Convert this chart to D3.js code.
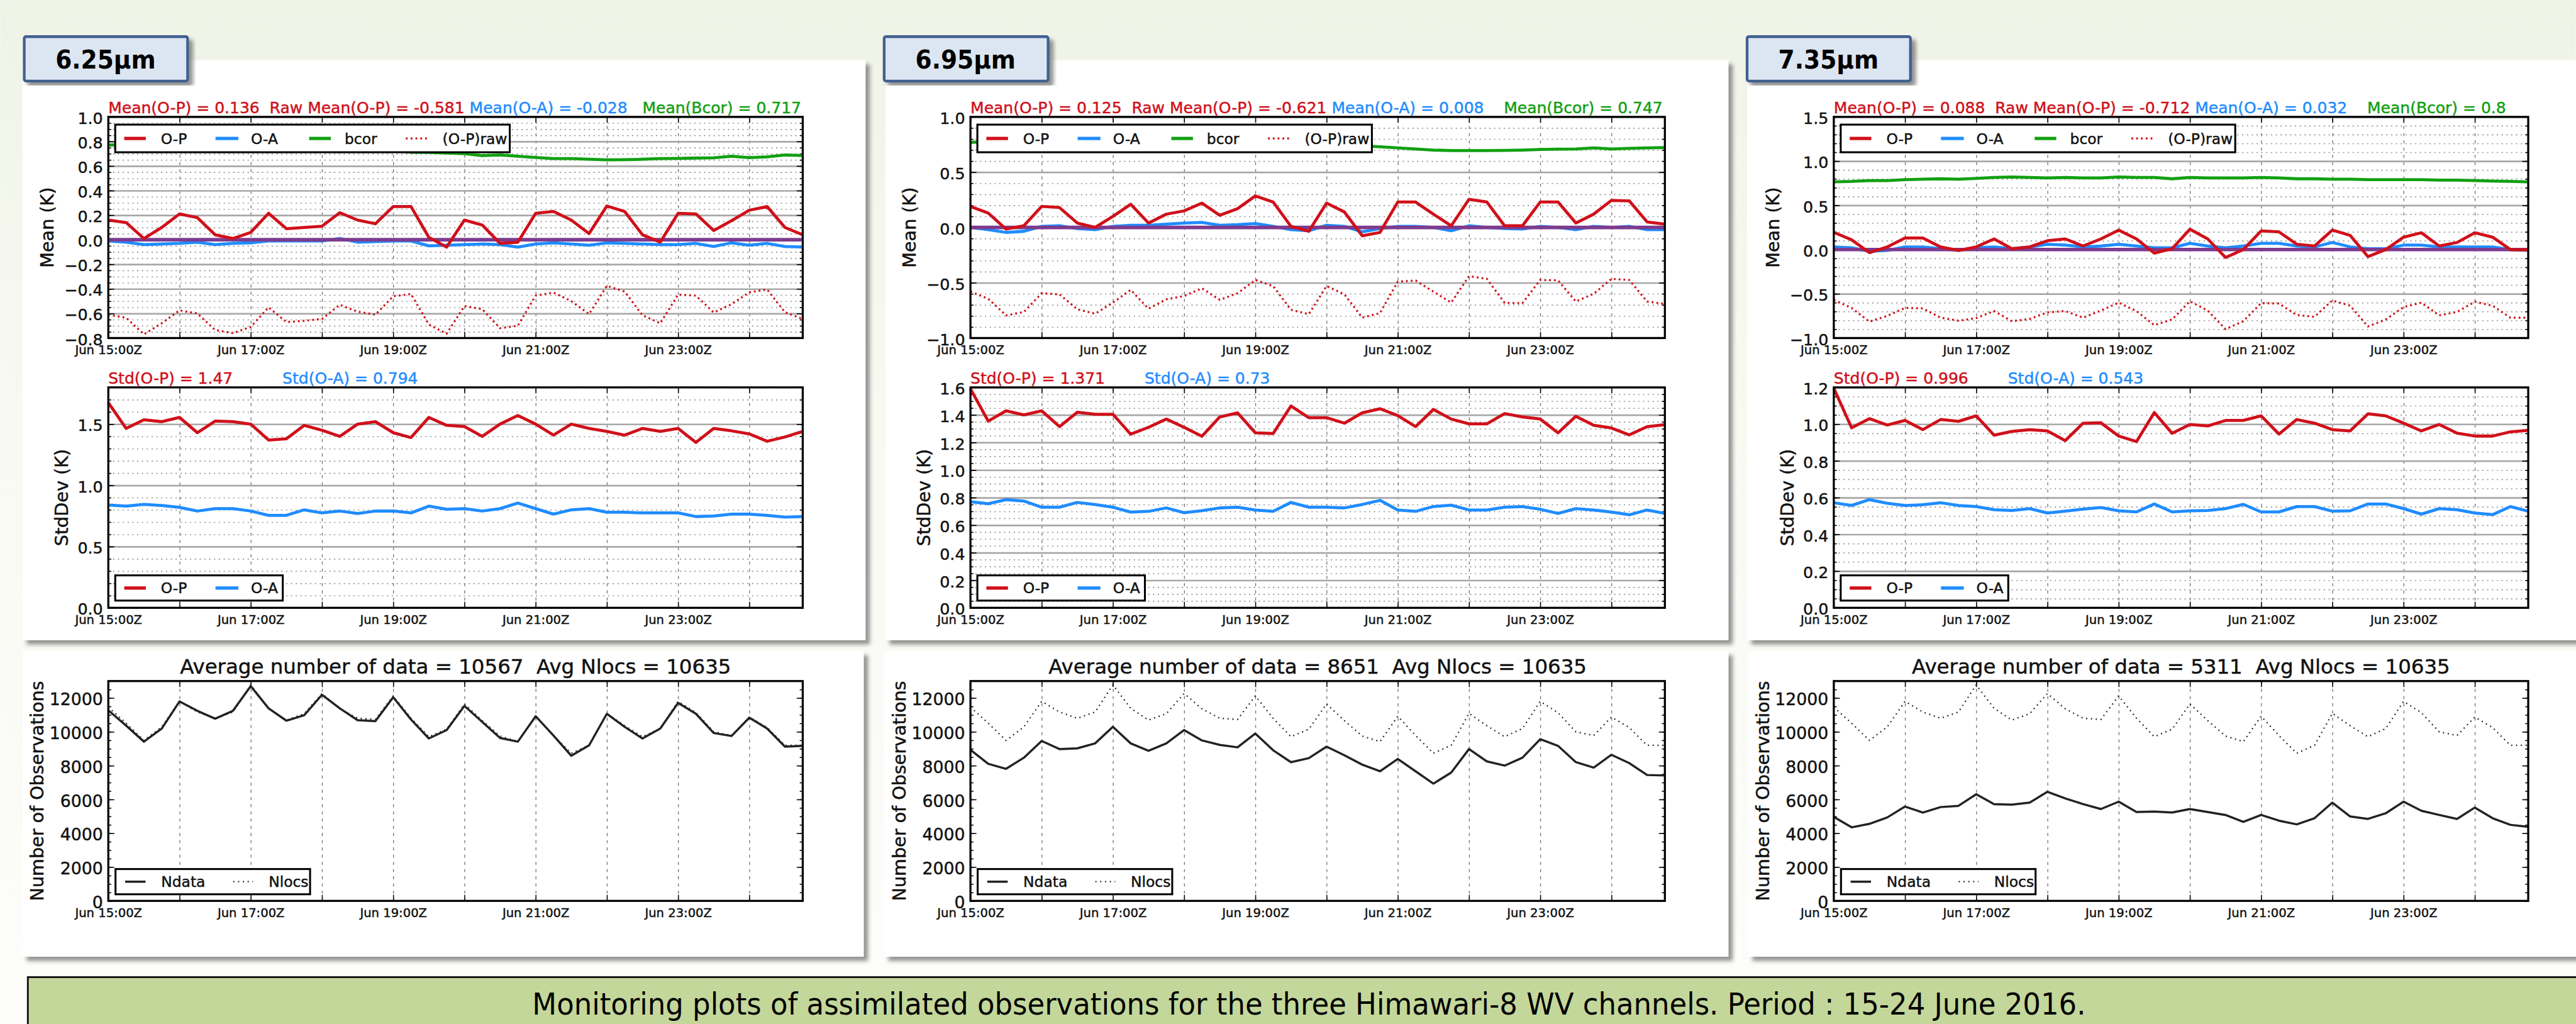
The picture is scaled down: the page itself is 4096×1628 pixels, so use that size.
<!DOCTYPE html>
<html>
<head>
<meta charset="utf-8">
<script src="https://cdn.jsdelivr.net/npm/d3@7/dist/d3.min.js"></script>
<style>
  body { margin: 0; background: #fff; overflow: hidden; }
  text { font-family: 'DejaVu Sans', sans-serif; white-space: pre; }
  .chart text { stroke: currentColor; stroke-width: 0.5px; }
</style>
</head>
<body>
<svg id="fig"></svg>
<script>
// ---- data (hours since Jun 15 00Z, every 6h) ----
const obsHours = [0,6,12,18,24,30,36,42,48,54,60,66,72,78,84,90,96,102,108,114,
  120,126,132,138,144,150,156,162,168,174,180,186,192,198,204,210,216,222,228,234];
const dayTicks = [0,24,48,72,96,120,144,168,192,216];
const labelHours = [0,48,96,144,192];
const dayLabels = ['Jun 15:00Z','Jun 17:00Z','Jun 19:00Z','Jun 21:00Z','Jun 23:00Z'];

// 6.25um
const op625 = [0.16,0.14,0.01,0.10,0.21,0.18,0.04,0.01,0.06,0.215,0.09,0.10,0.11,0.22,0.16,0.13,0.27,0.27,0.02,-0.06,
  0.16,0.12,-0.03,-0.02,0.215,0.23,0.16,0.05,0.275,0.23,0.04,-0.02,0.215,0.21,0.075,0.155,0.24,0.27,0.10,0.04];
const oa625 = [-0.01,-0.02,-0.04,-0.035,-0.03,-0.02,-0.04,-0.03,-0.025,-0.01,-0.01,-0.01,-0.01,0.01,-0.02,-0.015,-0.01,-0.01,-0.05,-0.045,
  -0.04,-0.035,-0.04,-0.06,-0.035,-0.025,-0.035,-0.045,-0.025,-0.03,-0.035,-0.04,-0.04,-0.03,-0.055,-0.025,-0.045,-0.03,-0.055,-0.06];
const bcor625 = [0.77,0.775,0.78,0.78,0.785,0.78,0.775,0.77,0.77,0.765,0.76,0.76,0.755,0.75,0.745,0.74,0.73,0.712,0.71,0.705,
  0.70,0.685,0.69,0.68,0.67,0.66,0.66,0.655,0.65,0.652,0.655,0.66,0.662,0.665,0.667,0.68,0.668,0.675,0.69,0.685];
const raw625 = [-0.61,-0.635,-0.77,-0.68,-0.575,-0.60,-0.735,-0.76,-0.71,-0.55,-0.67,-0.66,-0.645,-0.53,-0.585,-0.61,-0.46,-0.442,-0.69,-0.765,
  -0.54,-0.565,-0.72,-0.70,-0.455,-0.43,-0.50,-0.605,-0.375,-0.422,-0.615,-0.68,-0.447,-0.455,-0.592,-0.525,-0.428,-0.405,-0.59,-0.645];
const sdop625 = [1.675,1.465,1.535,1.52,1.555,1.43,1.525,1.52,1.50,1.37,1.38,1.49,1.45,1.40,1.50,1.52,1.43,1.39,1.555,1.49,
  1.48,1.40,1.50,1.57,1.50,1.41,1.50,1.465,1.44,1.41,1.465,1.44,1.465,1.35,1.465,1.445,1.42,1.36,1.395,1.44];
const sdoa625 = [0.84,0.83,0.845,0.835,0.82,0.79,0.81,0.81,0.79,0.755,0.755,0.80,0.775,0.79,0.77,0.79,0.79,0.775,0.83,0.805,
  0.81,0.79,0.81,0.855,0.81,0.765,0.80,0.81,0.78,0.78,0.775,0.775,0.775,0.745,0.75,0.765,0.765,0.755,0.74,0.745];
const ndata625 = [11270,10365,9416,10190,11796,11241,10774,11241,12700,11387,10657,10978,12190,11387,10686,10628,12044,10730,9606,10102,
  11533,10584,9635,9416,10920,9781,8584,9197,11066,10292,9606,10190,11708,11066,9927,9752,10832,10190,9124,9168];

// 6.95um
const op695 = [0.19,0.13,-0.015,0.015,0.19,0.18,0.04,0.0,0.10,0.21,0.04,0.12,0.15,0.22,0.11,0.17,0.285,0.23,0.01,-0.035,
  0.22,0.14,-0.075,-0.045,0.23,0.23,0.12,0.015,0.255,0.23,0.015,0.015,0.23,0.23,0.04,0.12,0.245,0.24,0.05,0.03];
const oa695 = [0.0,-0.02,-0.045,-0.035,0.01,0.015,-0.01,-0.02,0.01,0.02,0.02,0.03,0.04,0.045,0.02,0.025,0.035,0.01,-0.02,-0.03,
  0.02,0.01,-0.04,-0.01,0.01,0.01,0.0,-0.03,0.015,0.0,-0.01,-0.015,0.01,0.0,-0.02,0.01,0.0,0.01,-0.02,-0.02];
const bcor695 = [0.77,0.775,0.78,0.78,0.785,0.785,0.78,0.78,0.78,0.775,0.775,0.77,0.77,0.77,0.765,0.765,0.76,0.76,0.755,0.75,
  0.75,0.745,0.74,0.73,0.72,0.71,0.70,0.695,0.695,0.695,0.697,0.70,0.705,0.708,0.71,0.72,0.71,0.715,0.72,0.722];
const raw695 = [-0.58,-0.645,-0.795,-0.765,-0.595,-0.605,-0.74,-0.78,-0.68,-0.565,-0.735,-0.65,-0.62,-0.55,-0.655,-0.595,-0.475,-0.53,-0.745,-0.785,
  -0.53,-0.605,-0.815,-0.775,-0.49,-0.48,-0.58,-0.68,-0.44,-0.465,-0.682,-0.685,-0.475,-0.478,-0.67,-0.60,-0.465,-0.475,-0.67,-0.692];
const sdop695 = [1.59,1.355,1.43,1.40,1.43,1.315,1.42,1.405,1.405,1.26,1.31,1.37,1.31,1.245,1.385,1.415,1.27,1.265,1.465,1.38,
  1.38,1.34,1.415,1.445,1.395,1.315,1.44,1.37,1.335,1.335,1.41,1.385,1.37,1.27,1.39,1.325,1.305,1.255,1.315,1.33];
const sdoa695 = [0.77,0.755,0.785,0.775,0.73,0.73,0.765,0.75,0.73,0.695,0.70,0.725,0.69,0.705,0.725,0.73,0.71,0.70,0.765,0.73,
  0.73,0.725,0.75,0.78,0.71,0.70,0.735,0.745,0.71,0.71,0.73,0.735,0.715,0.685,0.72,0.71,0.695,0.675,0.71,0.685];
const ndata695 = [8934,8102,7810,8467,9460,8978,9022,9314,10292,9314,8876,9314,10102,9489,9226,9080,9898,8905,8204,8438,
  9124,8613,8058,7664,8394,7664,6934,7591,8978,8248,8000,8467,9562,9168,8204,7883,8642,8146,7445,7416];

// 7.35um
const op735 = [0.195,0.11,-0.035,0.03,0.13,0.13,0.03,-0.01,0.03,0.12,0.01,0.03,0.10,0.12,0.04,0.12,0.22,0.12,-0.04,0.01,
  0.23,0.12,-0.09,0.0,0.21,0.20,0.06,0.04,0.22,0.16,-0.08,0.0,0.14,0.19,0.04,0.08,0.19,0.14,0.0,-0.005];
const oa735 = [0.03,0.02,-0.02,-0.01,0.03,0.03,0.01,-0.01,0.02,0.03,0.01,0.03,0.06,0.05,0.03,0.04,0.06,0.04,0.02,0.02,
  0.07,0.04,0.02,0.04,0.07,0.07,0.04,0.03,0.08,0.03,0.01,0.01,0.05,0.05,0.03,0.03,0.03,0.03,0.0,-0.01];
const bcor735 = [0.765,0.77,0.78,0.78,0.79,0.795,0.80,0.795,0.805,0.815,0.82,0.815,0.81,0.815,0.81,0.81,0.82,0.815,0.815,0.80,
  0.815,0.81,0.81,0.81,0.815,0.81,0.80,0.80,0.795,0.795,0.79,0.79,0.79,0.79,0.785,0.785,0.78,0.775,0.77,0.765];
const raw735 = [-0.57,-0.66,-0.815,-0.75,-0.66,-0.665,-0.77,-0.805,-0.775,-0.695,-0.81,-0.785,-0.71,-0.695,-0.77,-0.69,-0.60,-0.695,-0.855,-0.79,
  -0.585,-0.69,-0.90,-0.81,-0.605,-0.61,-0.74,-0.76,-0.575,-0.635,-0.87,-0.79,-0.65,-0.60,-0.745,-0.705,-0.59,-0.635,-0.77,-0.77];
const sdop735 = [1.195,0.98,1.03,0.995,1.02,0.97,1.025,1.015,1.045,0.94,0.96,0.97,0.963,0.91,1.005,1.007,0.935,0.905,1.063,0.95,
  0.998,0.99,1.02,1.02,1.045,0.946,1.025,1.005,0.97,0.963,1.056,1.045,1.005,0.963,0.998,0.951,0.935,0.935,0.958,0.966];
const sdoa735 = [0.572,0.557,0.589,0.569,0.557,0.561,0.572,0.557,0.551,0.534,0.53,0.54,0.516,0.526,0.537,0.546,0.528,0.522,0.565,0.522,
  0.528,0.53,0.54,0.563,0.522,0.522,0.551,0.551,0.526,0.528,0.565,0.565,0.54,0.51,0.54,0.534,0.516,0.507,0.551,0.526];
const ndata735 = [4964,4350,4555,4934,5577,5226,5547,5620,6307,5723,5693,5810,6453,6058,5723,5431,5869,5255,5285,5226,
  5431,5255,5080,4672,5080,4745,4526,4891,5810,4993,4847,5182,5869,5328,5080,4847,5518,4891,4496,4380];

// same for all channels
const nlocs = [11460,10510,9490,10290,11800,11170,10800,11170,12770,11390,10690,11070,12260,11360,10800,10730,12120,10800,9710,10150,
  11650,10660,9750,9420,10920,9780,8730,9200,11090,10360,9710,10190,11800,11130,10000,9780,10870,10250,9200,9200];

// tick labels
const meanTicks625 = [-0.8,-0.6,-0.4,-0.2,0.0,0.2,0.4,0.6,0.8,1.0];
const meanTicks695 = [-1.0,-0.5,0.0,0.5,1.0];
const meanTicks735 = [-1.0,-0.5,0.0,0.5,1.0,1.5];
const stdTicks625 = [0.0,0.5,1.0,1.5];
const stdTicks695 = [0.0,0.2,0.4,0.6,0.8,1.0,1.2,1.4,1.6];
const stdTicks735 = [0.0,0.2,0.4,0.6,0.8,1.0,1.2];
const nobsTicks = [0,2000,4000,6000,8000,10000,12000];

const channelNames = ['6.25µm','6.95µm','7.35µm'];
const meanStats = [
  ['0.136','-0.581','-0.028','0.717'],
  ['0.125','-0.621','0.008','0.747'],
  ['0.088','-0.712','0.032','0.8']
];
const stdStats = [['1.47','0.794'],['1.371','0.73'],['0.996','0.543']];
const avgData = ['10567','8651','5311'];
const avgNlocs = '10635';

const channels = [
  { op: op625, oa: oa625, bcor: bcor625, raw: raw625, sdop: sdop625, sdoa: sdoa625, ndata: ndata625,
    meanTicks: meanTicks625, meanDomain: [-0.8, 1.0], meanMinor: 0.05,
    stdTicks: stdTicks625, stdDomain: [0, 1.8], stdMinor: 0.1, gap: '   ' },
  { op: op695, oa: oa695, bcor: bcor695, raw: raw695, sdop: sdop695, sdoa: sdoa695, ndata: ndata695,
    meanTicks: meanTicks695, meanDomain: [-1.0, 1.0], meanMinor: 0.1,
    stdTicks: stdTicks695, stdDomain: [0, 1.6], stdMinor: 0.05, gap: '    ' },
  { op: op735, oa: oa735, bcor: bcor735, raw: raw735, sdop: sdop735, sdoa: sdoa735, ndata: ndata735,
    meanTicks: meanTicks735, meanDomain: [-1.0, 1.5], meanMinor: 0.1,
    stdTicks: stdTicks735, stdDomain: [0, 1.2], stdMinor: 0.05, gap: '    ' }
];

// ---- layout (reference pixel space 4289 x 1705) ----
const layout = [
  { x0: 180,    upper: [37, 100, 1404, 966],   lower: [37, 1084, 1401, 509],   tag: [40, 61, 272, 74] },
  { x0: 1615.7, upper: [1474, 100, 1404, 966], lower: [1472, 1084, 1406, 509], tag: [1472, 61, 273, 74] },
  { x0: 3053.4, upper: [2909, 100, 1420, 966], lower: [2911, 1084, 1420, 509], tag: [2909, 61, 272, 74] }
];
const plotW = 1156.4;
const meanY = [194.6, 562.8], stdY = [645, 1012], nobsY = [1134, 1500];

const RED = '#d0101a', BLUE = '#1f8cff', GREEN = '#12a012', PURPLE = '#7e3b8e';

const svg = d3.select('#fig')
  .attr('width', 4096).attr('height', 1628)
  .attr('viewBox', '0 0 4289 1705');

const defs = svg.append('defs');
const bg = defs.append('linearGradient').attr('id', 'bg').attr('x1', 0).attr('y1', 0).attr('x2', 0).attr('y2', 1);
bg.append('stop').attr('offset', '0').attr('stop-color', '#eff3e6');
bg.append('stop').attr('offset', '0.35').attr('stop-color', '#f7f9f1');
bg.append('stop').attr('offset', '1').attr('stop-color', '#fdfdfb');
const sh = defs.append('filter').attr('id', 'shadow').attr('x', '-5%').attr('y', '-5%').attr('width', '110%').attr('height', '115%');
sh.append('feDropShadow').attr('dx', 7).attr('dy', 7).attr('stdDeviation', 3.5)
  .attr('flood-color', '#6e6e6e').attr('flood-opacity', 0.75);

svg.append('rect').attr('width', 4289).attr('height', 1705).attr('fill', 'url(#bg)');

const fmt1 = d => d3.format('.1f')(d).replace('-', '\u2212');

function styleAxis(sel, size) {
  sel.attr('font-family', 'DejaVu Sans').attr('font-size', size).attr('fill', '#111');
  sel.select('.domain').remove();
  sel.selectAll('.tick line').attr('stroke', '#000').attr('stroke-width', 1.6);
  sel.selectAll('.tick text').attr('fill', '#111').style('color', '#111');
}

function minorValues(domain, step) {
  const n = Math.round((domain[1] - domain[0]) / step);
  return d3.range(n + 1).map(k => +(domain[0] + k * step).toFixed(4));
}

function frame(g, x, y, major, minor, hGrid, fmt, yFont) {
  const [xa, xb] = x.range();
  const yb = y.range()[0], ya = y.range()[1];
  const w = xb - xa, h = yb - ya;

  // vertical dashed day grid
  g.append('g').attr('transform', `translate(0,${yb})`)
    .call(d3.axisTop(x).tickValues(dayTicks).tickSize(h).tickFormat(''))
    .call(s => s.select('.domain').remove())
    .selectAll('.tick line')
    .attr('stroke', '#6a6a6a').attr('stroke-width', 1.3).attr('stroke-dasharray', '5,7');

  if (hGrid) {
    g.append('g').attr('transform', `translate(${xa},0)`)
      .call(d3.axisRight(y).tickValues(minor).tickSize(w).tickFormat(''))
      .call(s => s.select('.domain').remove())
      .selectAll('.tick line')
      .attr('stroke', '#8c8c8c').attr('stroke-width', 1.7).attr('stroke-dasharray', '2,6');
    g.append('g').attr('transform', `translate(${xa},0)`)
      .call(d3.axisRight(y).tickValues(major).tickSize(w).tickFormat(''))
      .call(s => s.select('.domain').remove())
      .selectAll('.tick line')
      .attr('stroke', '#a8a8a8').attr('stroke-width', 2.8);
  }

  // left axis with labels
  g.append('g').attr('transform', `translate(${xa},0)`)
    .call(d3.axisLeft(y).tickValues(major).tickSize(-10).tickPadding(9).tickFormat(fmt))
    .call(s => styleAxis(s, yFont))
    .selectAll('.tick text').attr('dy', '0.42em');
  g.append('g').attr('transform', `translate(${xa},0)`)
    .call(d3.axisLeft(y).tickValues(minor).tickSize(-5).tickFormat(''))
    .call(s => styleAxis(s, yFont));
  g.append('g').attr('transform', `translate(${xb},0)`)
    .call(d3.axisRight(y).tickValues(major).tickSize(-10).tickFormat(''))
    .call(s => styleAxis(s, yFont));
  g.append('g').attr('transform', `translate(${xb},0)`)
    .call(d3.axisRight(y).tickValues(minor).tickSize(-5).tickFormat(''))
    .call(s => styleAxis(s, yFont));

  // x axes
  g.append('g').attr('transform', `translate(0,${yb})`)
    .call(d3.axisBottom(x).tickValues(dayTicks).tickSize(-10).tickPadding(12)
      .tickFormat(d => { const k = labelHours.indexOf(d); return k < 0 ? '' : dayLabels[k]; }))
    .call(s => styleAxis(s, 20.5));
  g.append('g').attr('transform', `translate(0,${ya})`)
    .call(d3.axisTop(x).tickValues(dayTicks).tickSize(-10).tickFormat(''))
    .call(s => styleAxis(s, 20.5));
}

function spine(g, x, y) {
  const [xa, xb] = x.range();
  g.append('rect')
    .attr('x', xa).attr('y', y.range()[1])
    .attr('width', xb - xa).attr('height', y.range()[0] - y.range()[1])
    .attr('fill', 'none').attr('stroke', '#000').attr('stroke-width', 3.4);
}

function series(g, x, y, values, color, width, dash) {
  const line = d3.line().x((d, i) => x(obsHours[i])).y(d => y(d));
  g.append('path').datum(values)
    .attr('d', line)
    .attr('fill', 'none').attr('stroke', color).attr('stroke-width', width)
    .attr('stroke-linejoin', 'round')
    .attr('stroke-dasharray', dash || null);
}

function legend(g, bx, by, bw, bh, items) {
  g.append('rect').attr('x', bx).attr('y', by).attr('width', bw).attr('height', bh)
    .attr('fill', '#fff').attr('stroke', '#000').attr('stroke-width', 3.2);
  const cy = by + bh / 2;
  items.forEach(it => {
    g.append('line').attr('x1', bx + it.l1).attr('x2', bx + it.l2).attr('y1', cy).attr('y2', cy)
      .attr('stroke', it.color).attr('stroke-width', it.width).attr('stroke-dasharray', it.dash || null);
    g.append('text').attr('x', bx + it.t).attr('y', cy + 9)
      .attr('font-size', 24.5).attr('fill', '#111').style('color', '#111').text(it.label);
  });
}

function yLabel(g, x, y, txt) {
  g.append('text').attr('transform', `translate(${x},${y}) rotate(-90)`)
    .attr('text-anchor', 'middle').attr('font-size', 30).attr('fill', '#111').style('color', '#111').text(txt);
}

channels.forEach((ch, p) => {
  const L = layout[p];
  const x0 = L.x0, x1 = x0 + plotW;

  // white boxes
  [L.upper, L.lower].forEach(b => {
    svg.append('rect').attr('x', b[0]).attr('y', b[1]).attr('width', b[2]).attr('height', b[3])
      .attr('fill', '#fff').attr('filter', 'url(#shadow)');
  });

  const g = svg.append('g').attr('class', 'chart');
  const x = d3.scaleLinear().domain([0, 234]).range([x0, x1]);

  // ---- mean panel ----
  const ym = d3.scaleLinear().domain(ch.meanDomain).range([meanY[1], meanY[0]]);
  frame(g, x, ym, ch.meanTicks, minorValues(ch.meanDomain, ch.meanMinor), true, fmt1, 26.5);
  series(g, x, ym, ch.oa, BLUE, 5);
  g.append('line').attr('x1', x0).attr('x2', x1).attr('y1', ym(0)).attr('y2', ym(0))
    .attr('stroke', PURPLE).attr('stroke-width', 6);
  series(g, x, ym, ch.op, RED, 5);
  series(g, x, ym, ch.bcor, GREEN, 5);
  series(g, x, ym, ch.raw, RED, 3.4, '3,5');
  spine(g, x, ym);
  const ms = meanStats[p];
  const mt = g.append('text').attr('x', x0).attr('y', 189).attr('font-size', 26.2);
  mt.append('tspan').attr('fill', RED).style('color', RED).text(`Mean(O-P) = ${ms[0]}  Raw Mean(O-P) = ${ms[1]} `);
  mt.append('tspan').attr('fill', BLUE).style('color', BLUE).text(`Mean(O-A) = ${ms[2]}${ch.gap}`);
  mt.append('tspan').attr('fill', GREEN).style('color', GREEN).text(`Mean(Bcor) = ${ms[3]}`);
  legend(g, x0 + 11.5, 207.5, 657, 46, [
    { l1: 15, l2: 51, t: 76, label: 'O-P', color: RED, width: 5.5 },
    { l1: 167, l2: 205, t: 226, label: 'O-A', color: BLUE, width: 5.5 },
    { l1: 323, l2: 359, t: 382, label: 'bcor', color: GREEN, width: 5.5 },
    { l1: 484, l2: 520, t: 545, label: '(O-P)raw', color: RED, width: 3.4, dash: '3,5' }
  ]);
  yLabel(g, x0 - 91, (meanY[0] + meanY[1]) / 2, 'Mean (K)');

  // ---- std panel ----
  const ys = d3.scaleLinear().domain(ch.stdDomain).range([stdY[1], stdY[0]]);
  frame(g, x, ys, ch.stdTicks, minorValues(ch.stdDomain, ch.stdMinor), true, fmt1, 26.5);
  series(g, x, ys, ch.sdoa, BLUE, 5);
  series(g, x, ys, ch.sdop, RED, 5);
  spine(g, x, ys);
  g.append('text').attr('x', x0).attr('y', 639).attr('font-size', 26.2).attr('fill', RED).style('color', RED)
    .text(`Std(O-P) = ${stdStats[p][0]}`);
  g.append('text').attr('x', x0 + 290).attr('y', 639).attr('font-size', 26.2).attr('fill', BLUE).style('color', BLUE)
    .text(`Std(O-A) = ${stdStats[p][1]}`);
  legend(g, x0 + 11.5, 958, 279, 42, [
    { l1: 15, l2: 51, t: 76, label: 'O-P', color: RED, width: 5.5 },
    { l1: 167, l2: 205, t: 226, label: 'O-A', color: BLUE, width: 5.5 }
  ]);
  yLabel(g, x0 - 67, (stdY[0] + stdY[1]) / 2, 'StdDev (K)');

  // ---- number of observations ----
  const yn = d3.scaleLinear().domain([0, 13000]).range([nobsY[1], nobsY[0]]);
  frame(g, x, yn, nobsTicks, minorValues([0, 13000], 500), false, d3.format('d'), 28);
  series(g, x, yn, nlocs, '#222', 2.4, '2,6');
  series(g, x, yn, ch.ndata, '#222', 3.6);
  spine(g, x, yn);
  g.append('text').attr('x', (x0 + x1) / 2).attr('y', 1122).attr('text-anchor', 'middle')
    .attr('font-size', 34).attr('fill', '#111').style('color', '#111')
    .text(`Average number of data = ${avgData[p]}  Avg Nlocs = ${avgNlocs}`);
  legend(g, x0 + 12, 1447, 324, 42, [
    { l1: 16, l2: 50, t: 76, label: 'Ndata', color: '#222', width: 3.6 },
    { l1: 196, l2: 229, t: 255, label: 'Nlocs', color: '#222', width: 2.4, dash: '2,6' }
  ]);
  yLabel(g, x0 - 108, (nobsY[0] + nobsY[1]) / 2, 'Number of Observations');

  // ---- channel tag ----
  const t = L.tag;
  svg.append('rect').attr('x', t[0]).attr('y', t[1]).attr('width', t[2]).attr('height', t[3])
    .attr('rx', 3).attr('fill', '#dce6f2').attr('stroke', '#41618f').attr('stroke-width', 4.5)
    .attr('filter', 'url(#shadow)');
  svg.append('text').attr('x', t[0] + 52).attr('y', 114)
    .attr('font-family', "'Open Sans', 'DejaVu Sans', sans-serif").attr('font-weight', 700)
    .attr('font-size', 43).attr('fill', '#000')
    .attr('textLength', 167).attr('lengthAdjust', 'spacingAndGlyphs')
    .text(channelNames[p]);
});

// caption bar
svg.append('rect').attr('x', 46).attr('y', 1627).attr('width', 4300).attr('height', 120)
  .attr('fill', '#c4d79b').attr('stroke', '#111').attr('stroke-width', 3);
svg.append('text').attr('x', 886).attr('y', 1689)
  .attr('font-family', "'Liberation Sans Narrow', 'DejaVu Sans Condensed', 'Open Sans', sans-serif")
  .attr('font-size', 51).attr('fill', '#000')
  .attr('textLength', 2587).attr('lengthAdjust', 'spacingAndGlyphs')
  .text('Monitoring plots of assimilated observations for the three Himawari-8 WV channels. Period : 15-24 June 2016.');
</script>
</body>
</html>
